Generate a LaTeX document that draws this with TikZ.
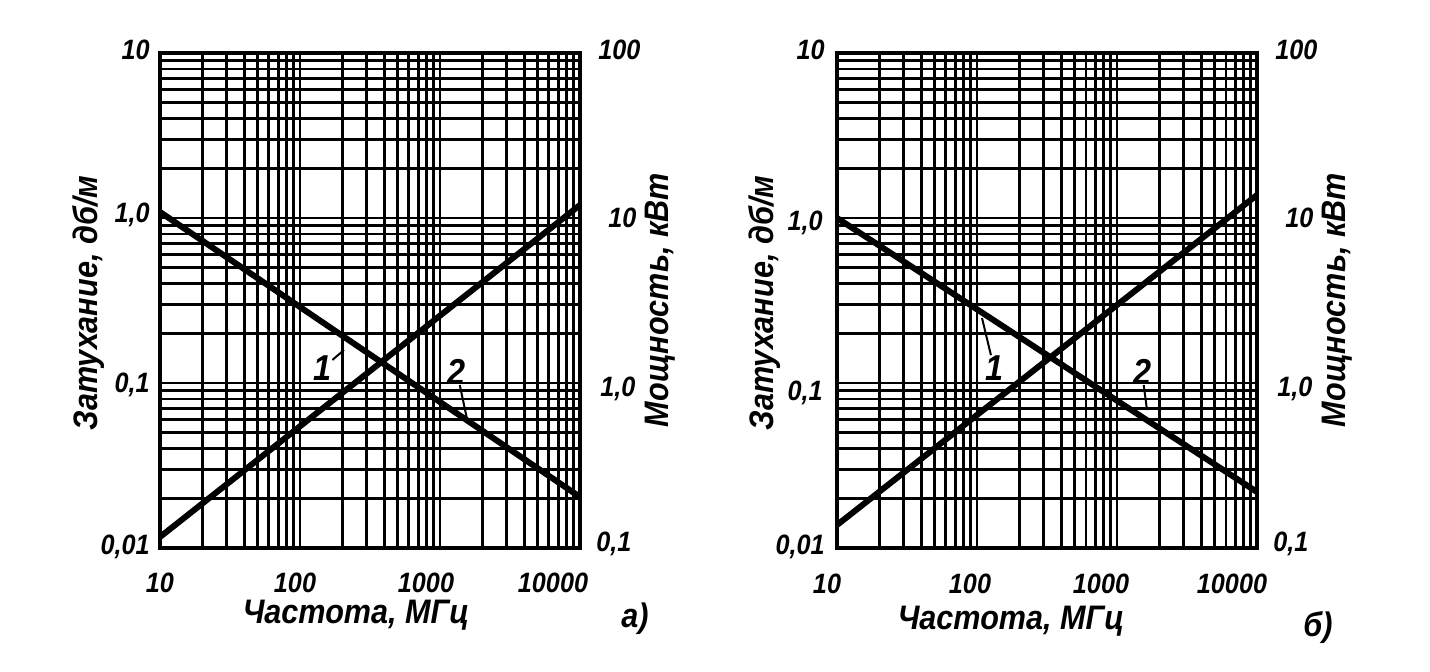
\documentclass[tikz,border=0pt]{standalone}
\usepackage{fontspec}
\newfontfamily\plotfont{Liberation Sans}[FakeStretch=0.9]

\tikzset{
  gridline/.style={line width=1.45pt},
  frameline/.style={line width=2.2pt},
  curve/.style={line width=3pt},
  leader/.style={line width=1pt},
  ticklabel/.style={font=\plotfont\bfseries\itshape\fontsize{14}{14}\selectfont,inner sep=0pt},
  axistitle/.style={font=\plotfont\bfseries\itshape\fontsize{17}{17}\selectfont,inner sep=0pt},
  curvelabel/.style={font=\plotfont\bfseries\itshape\fontsize{18}{18}\selectfont,inner sep=0pt},
}

\begin{document}
\begin{tikzpicture}[x=0.5pt,y=-0.5pt]
        \pgfmathsetmacro{\pw}{420}
        \pgfmathsetmacro{\ph}{495}
        \pgfmathsetmacro{\decx}{140}
        \pgfmathsetmacro{\decy}{165}
        \useasboundingbox (0,0) rectangle (1430,672);

        % panel a
        \begin{scope}[shift={(160,53)}]
          \foreach \d in {0,1,2}
            \foreach \m in {2,...,10} {
              \draw[gridline] ({\decx*(\d+log10(\m))},0) -- ({\decx*(\d+log10(\m))},\ph);
              \draw[gridline] (0,{\ph-\decy*(\d+log10(\m))}) -- (\pw,{\ph-\decy*(\d+log10(\m))});
            }
          \draw[frameline] (0,0) rectangle (\pw,\ph);

          \node[ticklabel,anchor=east] (aL10) at (-10,-3) {10};
          \node[ticklabel,anchor=east] (aL1) at (-10,162) {1,0};
          \node[ticklabel,anchor=east] (aL01) at (-10,332) {0,1};
          \node[ticklabel,anchor=east] (aL001) at (-10,494) {0,01};
          \node[ticklabel,anchor=west] (aR100) at (438,-3) {100};
          \node[ticklabel,anchor=west] (aR10) at (448,165) {10};
          \node[ticklabel,anchor=west] (aR1) at (440,336) {1,0};
          \node[ticklabel,anchor=west] (aR01) at (436,491) {0,1};
          \node[ticklabel] (aB10) at (0,530) {10};
          \node[ticklabel] (aB100) at (135,530) {100};
          \node[ticklabel] (aB1000) at (266,530) {1000};
          \node[ticklabel] (aB10000) at (393,530) {10000};

          \node[axistitle,rotate=90] (aYl) at (-71,250) {Затухание, дб/м};
          \node[axistitle,rotate=90] (aYr) at (500,247) {Мощность, кВт};
          \node[axistitle] (aX) at (196,562) {Частота, МГц};
          \node[axistitle] (aTag) at (475,566) {а)};

          \coordinate (aDecL) at (0,159);
          \coordinate (aDecR) at (\pw,444);
          \coordinate (aIncL) at (0,484);
          \coordinate (aIncR) at (\pw,152);
          \draw[curve] (aDecL) -- (aDecR);
          \draw[curve] (aIncL) -- (aIncR);

          \node[curvelabel] (a1) at (163,315) {1};
          \node[curvelabel] (a2) at (297,319) {2};
          \coordinate (a1tip) at (184,297);
          \coordinate (a2tip) at (307,366);
          \draw[leader] (a1) -- (a1tip);
          \draw[leader] (a2) -- (a2tip);
        \end{scope}

        % panel b
        \begin{scope}[shift={(837,53)}]
          \foreach \d in {0,1,2}
            \foreach \m in {2,...,10} {
              \draw[gridline] ({\decx*(\d+log10(\m))},0) -- ({\decx*(\d+log10(\m))},\ph);
              \draw[gridline] (0,{\ph-\decy*(\d+log10(\m))}) -- (\pw,{\ph-\decy*(\d+log10(\m))});
            }
          \draw[frameline] (0,0) rectangle (\pw,\ph);

          \node[ticklabel,anchor=east] (bL10) at (-12,-3) {10};
          \node[ticklabel,anchor=east] (bL1) at (-14,170) {1,0};
          \node[ticklabel,anchor=east] (bL01) at (-14,340) {0,1};
          \node[ticklabel,anchor=east] (bL001) at (-12,494) {0,01};
          \node[ticklabel,anchor=west] (bR100) at (438,-3) {100};
          \node[ticklabel,anchor=west] (bR10) at (448,165) {10};
          \node[ticklabel,anchor=west] (bR1) at (440,336) {1,0};
          \node[ticklabel,anchor=west] (bR01) at (436,491) {0,1};
          \node[ticklabel] (bB10) at (-10,531) {10};
          \node[ticklabel] (bB100) at (133,531) {100};
          \node[ticklabel] (bB1000) at (264,531) {1000};
          \node[ticklabel] (bB10000) at (395,531) {10000};

          \node[axistitle,rotate=90] (bYl) at (-72,250) {Затухание, дб/м};
          \node[axistitle,rotate=90] (bYr) at (500,247) {Мощность, кВт};
          \node[axistitle] (bX) at (174,568) {Частота, МГц};
          \node[axistitle] (bTag) at (481,575) {б)};

          \coordinate (bDecL) at (0,165);
          \coordinate (bDecR) at (\pw,439);
          \coordinate (bIncL) at (0,472);
          \coordinate (bIncR) at (\pw,142);
          \draw[curve] (bDecL) -- (bDecR);
          \draw[curve] (bIncL) -- (bIncR);

          \node[curvelabel] (b1) at (157,315) {1};
          \node[curvelabel] (b2) at (305,319) {2};
          \coordinate (b1tip) at (145,265);
          \coordinate (b2tip) at (310,357);
          \draw[leader] (b1) -- (b1tip);
          \draw[leader] (b2) -- (b2tip);
        \end{scope}
      \end{tikzpicture}
\end{document}
